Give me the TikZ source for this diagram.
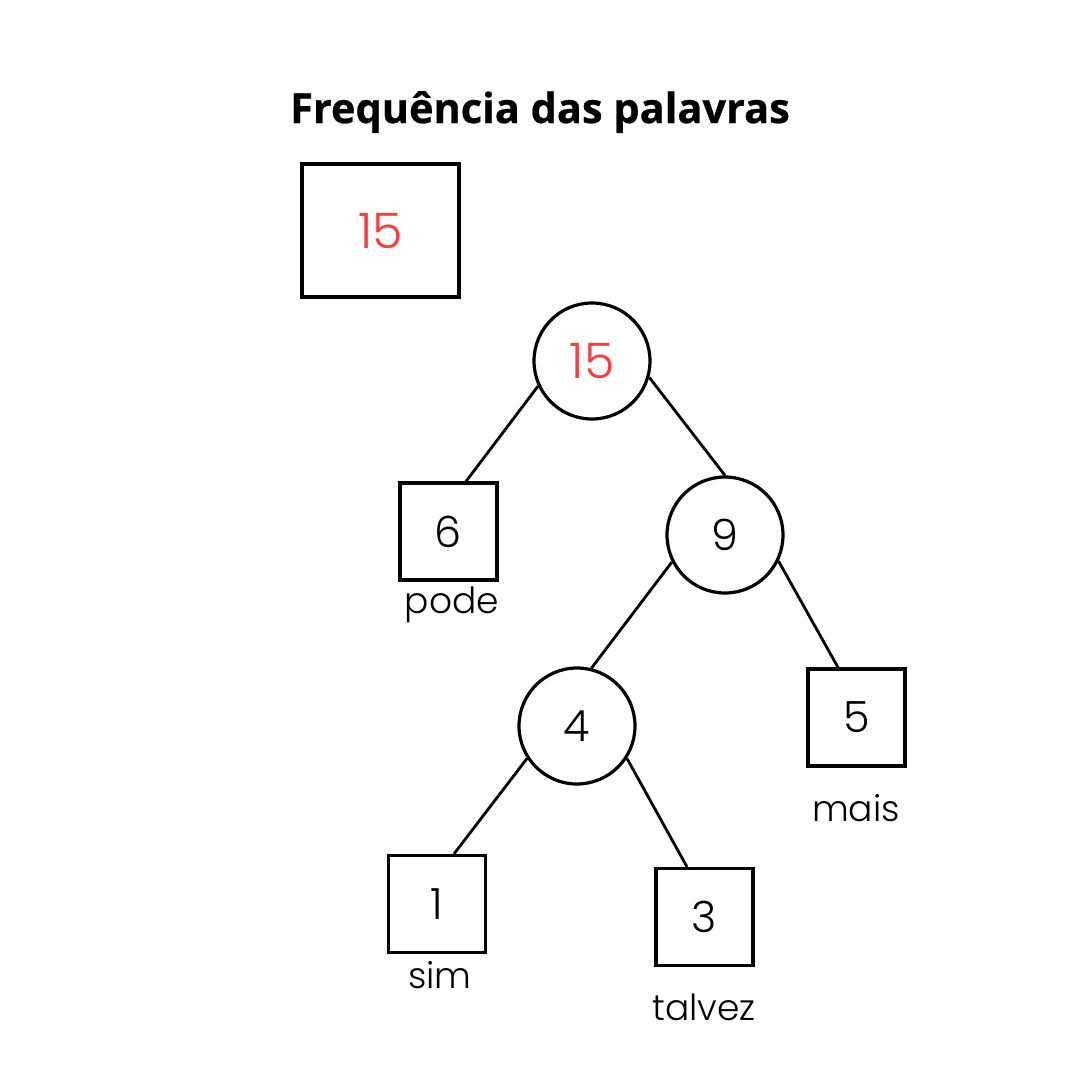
\documentclass[tikz,border=0pt]{standalone}
\usepackage{fontspec}
\setmainfont{Poppins}[UprightFont={* Light}]
\newfontfamily\titlefont{Open Sans}[UprightFont={* Bold}, FakeBold=0.6]
\usetikzlibrary{calc}
\definecolor{numred}{HTML}{FF3A3A}
\tikzset{
  sqnode/.style={draw=black, line width=3.2pt, minimum width=97pt, minimum height=97pt, inner sep=0pt},
  cirnode/.style={draw=black, line width=3.2pt, circle, minimum size=116pt, inner sep=0pt},
  numtext/.style={font=\fontsize{43}{50}\selectfont},
  bignum/.style={font=\fontsize{49}{56}\selectfont, text=numred},
  lbl/.style={font=\fontsize{36}{40}\selectfont, inner sep=0pt},
  edge/.style={line width=2.8pt}
}
\begin{document}
\begin{tikzpicture}[x=1pt,y=-1pt]
\useasboundingbox (0,0) rectangle (1080,1080);
\fill[white] (0,0) rectangle (1080,1080);
\node[font=\titlefont\fontsize{41.5}{50}\selectfont, anchor=base] (title) at (540,123) {Frequência das palavras};
\node[draw=black, line width=3.2pt, minimum width=157pt, minimum height=133pt, inner sep=0pt, bignum] (total) at (380.5,230.5) {15};
\node[cirnode, bignum] (c15) at (592,361) {15};
\node[sqnode, numtext] (s6) at (448.5,531.5) {6};
\node[cirnode, numtext] (c9) at (725,535) {9};
\node[cirnode, numtext] (c4) at (577,726) {4};
\node[sqnode, numtext] (s5) at (856.5,717.5) {5};
\node[sqnode, numtext] (s1) at (437,904) {1};
\node[sqnode, numtext] (s3) at (704.5,917) {3};
\node[lbl] (lpode) at (452,605) {pode};
\node[lbl] (lmais) at (856,808) {mais};
\node[lbl] (lsim) at (440,975) {sim};
\node[lbl] (ltalvez) at (704,1007) {talvez};
\draw[edge] (c15.205.7) -- ([xshift=17.5pt]s6.north);
\draw[edge] (c15.-16) -- (c9.north);
\draw[edge] (c9.207) -- (c4.76);
\draw[edge] (c9.-26.6) -- ([xshift=-18.5pt]s5.north);
\draw[edge] (c4.213) -- ([xshift=17pt]s1.north);
\draw[edge] (c4.-33.7) -- ([xshift=-17.5pt]s3.north);
\end{tikzpicture}
\end{document}
